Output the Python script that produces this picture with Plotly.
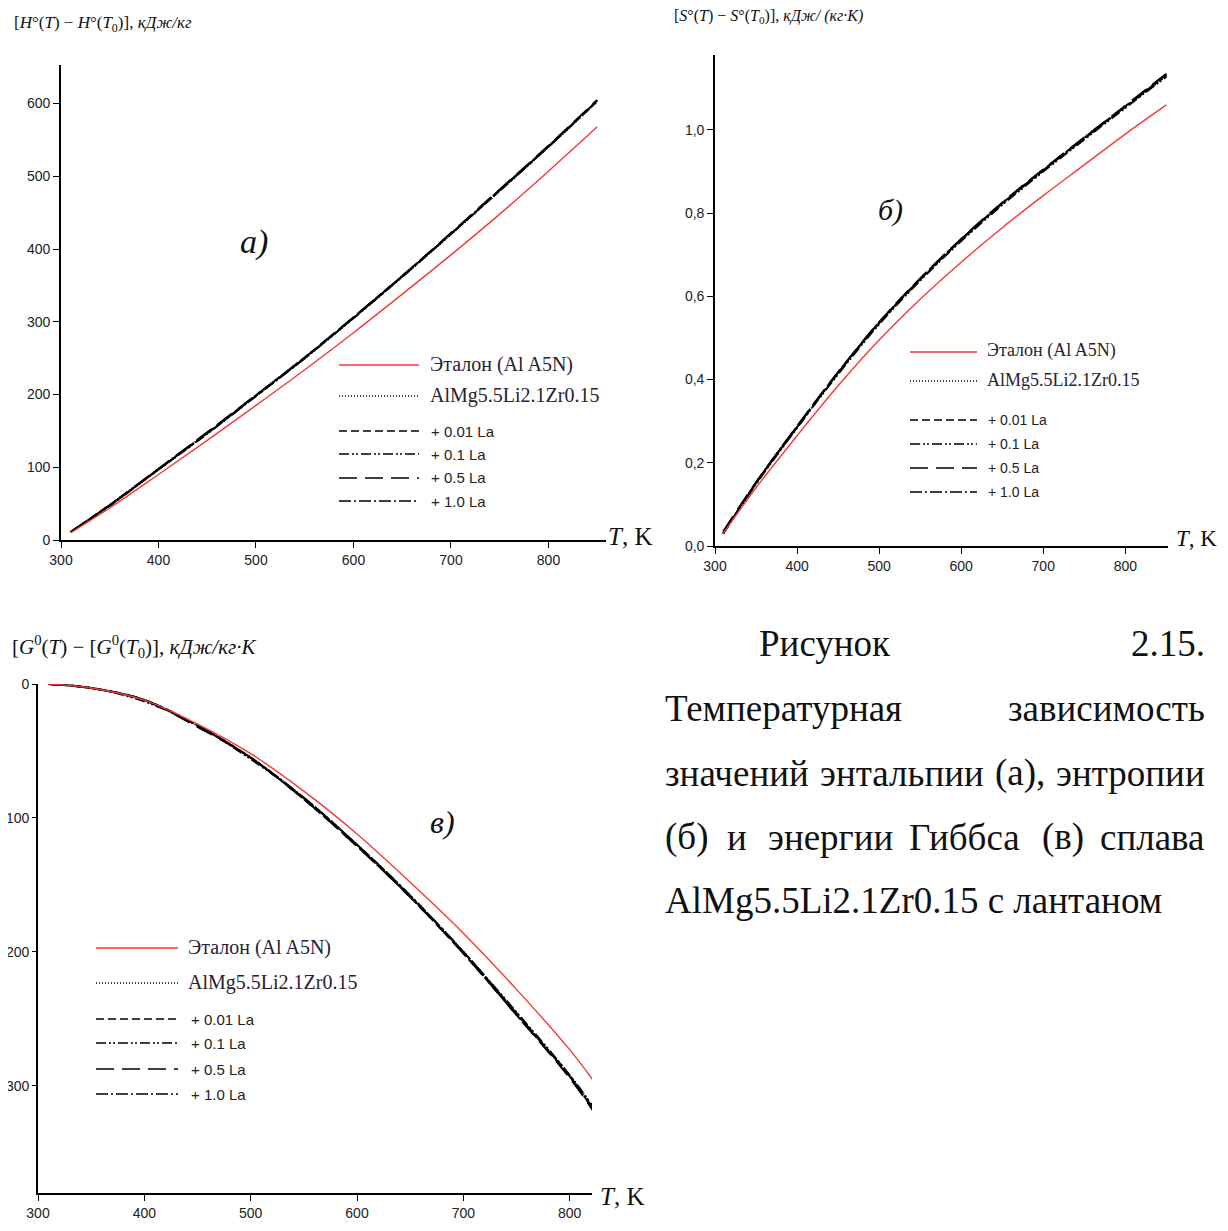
import plotly.graph_objects as go

# page has an 8px body margin, so the figure is drawn 8px smaller and coordinates shifted
OFF = 8
W, H = 1228 - OFF, 1231 - OFF

# ---------------- data ----------------
T_H = [310, 350, 400, 450, 500, 550, 600, 650, 700, 750, 800, 850]
H_etalon = [10, 44, 90, 137, 185, 234, 285, 338, 392, 448, 507, 568]
H_alloy  = [11, 48, 98, 147, 198, 250, 305, 362, 420, 480, 540, 603]
H_La001  = [11, 48, 97, 147, 199, 251, 306, 363, 421, 481, 541, 604]
H_La01   = [11, 47, 97, 146, 198, 250, 305, 362, 421, 480, 541, 603]
H_La05   = [11, 48, 98, 148, 199, 251, 306, 363, 422, 482, 542, 605]
H_La10   = [11, 48, 97, 147, 198, 250, 306, 362, 421, 481, 541, 604]

T_S = [310, 350, 400, 450, 500, 550, 600, 650, 700, 750, 800, 850]
S_etalon = [0.03, 0.14, 0.265, 0.385, 0.495, 0.593, 0.682, 0.765, 0.842, 0.916, 0.99, 1.06]
S_alloy  = [0.03, 0.15, 0.285, 0.415, 0.535, 0.64, 0.735, 0.822, 0.902, 0.979, 1.055, 1.13]
S_La001  = [0.03, 0.152, 0.287, 0.417, 0.537, 0.642, 0.737, 0.824, 0.904, 0.981, 1.057, 1.133]
S_La01   = [0.03, 0.149, 0.284, 0.413, 0.533, 0.638, 0.733, 0.820, 0.900, 0.977, 1.053, 1.128]
S_La05   = [0.035, 0.153, 0.288, 0.418, 0.538, 0.643, 0.738, 0.825, 0.905, 0.982, 1.058, 1.135]
S_La10   = [0.03, 0.151, 0.286, 0.416, 0.536, 0.641, 0.736, 0.823, 0.903, 0.980, 1.056, 1.131]

T_G = [310, 350, 400, 450, 500, 550, 600, 650, 700, 750, 800, 825]
G_etalon = [0, 3, 12, 30, 52, 80, 112, 148, 186, 228, 273, 299]
G_alloy  = [0, 3, 12, 31, 55, 85, 120, 158, 200, 246, 292, 320]
G_La001  = [0, 3, 12, 31, 55, 86, 121, 159, 201, 247, 293, 321]
G_La01   = [0, 3, 13, 31, 56, 85, 120, 158, 200, 245, 292, 319]
G_La05   = [0, 3, 12, 32, 55, 86, 121, 159, 201, 247, 294, 322]
G_La10   = [0, 3, 12, 31, 55, 85, 120, 158, 200, 246, 293, 321]

series_names = ["Эталон (Al A5N)", "AlMg5.5Li2.1Zr0.15", "+ 0.01 La", "+ 0.1 La", "+ 0.5 La", "+ 1.0 La"]
series_dash = ["solid", "1px,2px", "8px,4px", "10px,3px,2px,2px,2px,3px", "18px,8px", "12px,3px,2px,3px"]
series_color = ["#f23a3a", "black", "black", "black", "black", "black"]
series_width = [1.4, 2.0, 2.0, 2.0, 2.0, 2.0]

x_ticks = [300, 400, 500, 600, 700, 800]
H_ticks = [0, 100, 200, 300, 400, 500, 600]
S_ticks = [0.0, 0.2, 0.4, 0.6, 0.8, 1.0]
S_ticktext = ["0,0", "0,2", "0,4", "0,6", "0,8", "1,0"]
G_ticks = [0, 100, 200, 300]


def px(x):
    return (x - OFF) / W


def py(y):
    return 1 - (y - OFF) / H


fig = go.Figure()

panels = [
    ("x", "y", T_H, [H_etalon, H_alloy, H_La001, H_La01, H_La05, H_La10]),
    ("x2", "y2", T_S, [S_etalon, S_alloy, S_La001, S_La01, S_La05, S_La10]),
    ("x3", "y3", T_G, [G_etalon, G_alloy, G_La001, G_La01, G_La05, G_La10]),
]
for xa, ya, T, ys in panels:
    order = [1, 2, 3, 4, 5, 0]
    for i in order:
        fig.add_trace(go.Scatter(
            x=T, y=ys[i], mode="lines", name=series_names[i], showlegend=False,
            line=dict(color=series_color[i], width=series_width[i], dash=series_dash[i], shape="spline"),
            xaxis=xa, yaxis=ya))

tickfont = dict(family="Liberation Sans Narrow, Arial Narrow, Liberation Sans, Arial", size=14, color="#222")
common = dict(showline=True, linecolor="black", linewidth=1.6, ticks="outside",
              tickcolor="black", tickwidth=1.4, showgrid=False, zeroline=False, tickfont=tickfont,
              automargin=False, fixedrange=True)

fig.update_layout(
    width=W, height=H, margin=dict(l=0, r=0, t=0, b=0, pad=0, autoexpand=False),
    paper_bgcolor="white", plot_bgcolor="white", showlegend=False,
    xaxis=dict(domain=[px(61), px(606)], range=[300, 859], tickvals=x_ticks, anchor="y", ticklen=6, **common),
    yaxis=dict(domain=[py(540), py(65)], range=[0, 653], tickvals=H_ticks, anchor="x", ticklen=6, **common),
    xaxis2=dict(domain=[px(715), px(1168)], range=[300, 852], tickvals=x_ticks, anchor="y2", ticklen=6, **common),
    yaxis2=dict(domain=[py(546), py(55)], range=[0, 1.18], tickvals=S_ticks, ticktext=S_ticktext,
                anchor="x2", ticklen=6, **common),
    xaxis3=dict(domain=[px(38), px(592)], range=[300, 821], tickvals=x_ticks, anchor="y3", ticklen=6, **common),
    yaxis3=dict(domain=[py(1193), py(684)], range=[380, 0], tickvals=G_ticks, anchor="x3", ticklen=4, **common),
)

serif = "Liberation Serif, Times New Roman, serif"
ann = []
shapes = []


def text(x, y, s, size, xanchor="left", italic=False, family=serif, color="#111"):
    ann.append(dict(x=px(x), y=py(y), xref="paper", yref="paper", text=s, showarrow=False,
                    xanchor=xanchor, yanchor="middle",
                    font=dict(family=family, size=size, color=color, style="italic" if italic else "normal")))


# axis titles
text(12, 24, "[<i>H</i>°(<i>T</i>) − <i>H</i>°(<i>T</i><sub>0</sub>)], <i>кДж/кг</i>", 17)
text(672, 16, "[<i>S</i>°(<i>T</i>) − <i>S</i>°(<i>T</i><sub>0</sub>)], <i>кДж/ (кг·К)</i>", 16)
text(10, 646, "[<i>G</i><sup>0</sup>(<i>T</i>) − [<i>G</i><sup>0</sup>(<i>T</i><sub>0</sub>)], <i>кДж/кг·К</i>", 21)

# T, K labels
text(606, 536, "<i>T</i>, K", 25)
text(1174, 538, "<i>T</i>, K", 23)
text(598, 1196, "<i>T</i>, K", 25)

# panel letters
text(238, 242, "а)", 34, italic=True)
text(876, 210, "б)", 30, italic=True)
text(428, 822, "в)", 32, italic=True)


def legend(x0, x1, xt, xt2, ys, big, small):
    for i, yy in enumerate(ys):
        shapes.append(dict(type="line", xref="paper", yref="paper", x0=px(x0), x1=px(x1), y0=py(yy), y1=py(yy),
                           line=dict(color=series_color[i], width=1.6 if i else 1.5, dash=series_dash[i])))
        if i < 2:
            text(xt, yy - 1, series_names[i], big, family=serif, color="#2a2030")
        else:
            text(xt2, yy, series_names[i], small,
                 family="Liberation Sans Narrow, Arial Narrow, Liberation Sans, Arial", color="#222")


legend(339, 419, 428, 429, [365, 396, 431, 454, 478, 501], 20, 15)
legend(910, 977, 985, 986, [352, 381, 420, 444, 468, 492], 18, 14)
legend(96, 178, 186, 189, [948, 983, 1019, 1043, 1069, 1094], 20, 15)

# caption (justified lines placed word by word)
cap = 37
cf = "Liberation Serif, Times New Roman, serif"
text(757, 643, "Рисунок", cap, family=cf)
text(1207, 643, "2.15.", cap, xanchor="right", family=cf)
text(663, 708, "Температурная", cap, family=cf)
text(1207, 708, "зависимость", cap, xanchor="right", family=cf)
for xw, w in [(663, "значений"), (818, "энтальпии"), (993, "(а),")]:
    text(xw, 773, w, cap, family=cf)
text(1207, 773, "энтропии", cap, xanchor="right", family=cf)
for xw, w in [(663, "(б)"), (725, "и"), (766, "энергии"), (907, "Гиббса"), (1040, "(в)")]:
    text(xw, 837, w, cap, family=cf)
text(1207, 837, "сплава", cap, xanchor="right", family=cf)
text(663, 900, "AlMg5.5Li2.1Zr0.15 с лантаном", cap, family=cf)

fig.update_layout(annotations=ann, shapes=shapes)
fig.write_html("out.html")
